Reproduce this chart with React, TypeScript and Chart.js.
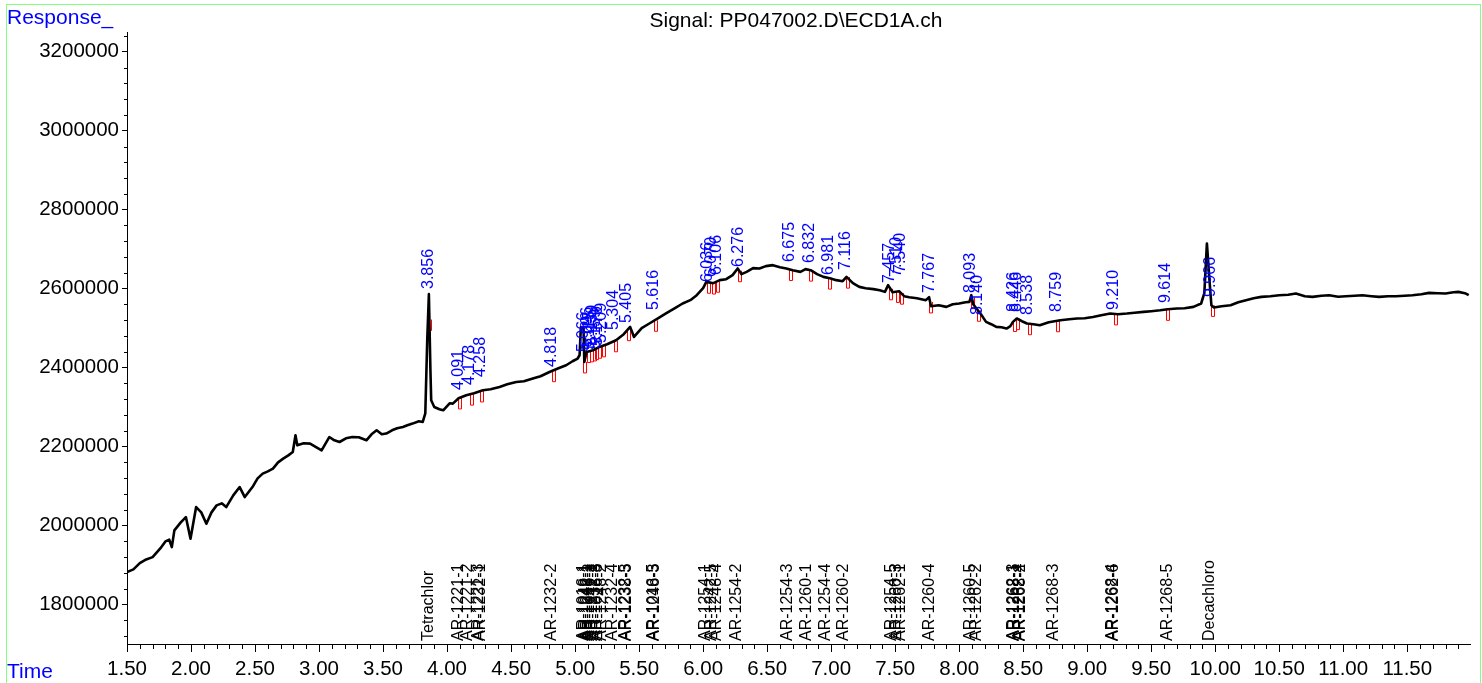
import React, { useEffect, useRef } from 'react';
import { Chart, registerables } from 'chart.js';

Chart.register(...registerables);

const chartTitle = 'Signal: PP047002.D\\ECD1A.ch';
const yAxisName = 'Response_';
const xAxisName = 'Time';

const signalTime = [
  1.50, 1.55, 1.60, 1.65, 1.70, 1.76, 1.80, 1.83, 1.85, 1.87,
  1.92, 1.96, 1.996, 2.04, 2.08, 2.12, 2.16, 2.20, 2.24, 2.275,
  2.33, 2.38, 2.42, 2.48, 2.52, 2.56, 2.60, 2.64, 2.68, 2.72,
  2.76, 2.795, 2.816, 2.83, 2.88, 2.93, 2.98, 3.02, 3.08, 3.12,
  3.16, 3.21, 3.26, 3.31, 3.37, 3.41, 3.45, 3.49, 3.525, 3.57,
  3.61, 3.655, 3.69, 3.73, 3.78, 3.81, 3.83, 3.845, 3.858, 3.87,
  3.876, 3.90, 3.94, 3.97, 4.02, 4.045, 4.09, 4.15, 4.21, 4.28,
  4.34, 4.41, 4.47, 4.54, 4.60, 4.67, 4.73, 4.80, 4.87, 4.93,
  4.98, 5.02, 5.035, 5.045, 5.066, 5.072, 5.09, 5.14, 5.19, 5.25,
  5.32, 5.38, 5.43, 5.46, 5.52, 5.58, 5.65, 5.71, 5.78, 5.84,
  5.90, 5.95, 6.00, 6.025, 6.08, 6.13, 6.18, 6.23, 6.27, 6.30,
  6.34, 6.39, 6.44, 6.49, 6.545, 6.60, 6.65, 6.70, 6.76, 6.80,
  6.84, 6.89, 6.94, 6.99, 7.04, 7.09, 7.12, 7.17, 7.22, 7.27,
  7.33, 7.38, 7.42, 7.445, 7.48, 7.53, 7.57, 7.61, 7.67, 7.74,
  7.765, 7.78, 7.84, 7.90, 7.95, 8.00, 8.05, 8.08, 8.095, 8.11,
  8.135, 8.17, 8.21, 8.25, 8.29, 8.33, 8.37, 8.40, 8.42, 8.45,
  8.49, 8.53, 8.58, 8.63, 8.70, 8.79, 8.86, 8.92, 8.98, 9.045,
  9.11, 9.18, 9.24, 9.31, 9.37, 9.44, 9.50, 9.57, 9.63, 9.70,
  9.76, 9.83, 9.89, 9.915, 9.935, 9.955, 9.97, 9.99, 10.05, 10.12,
  10.18, 10.24, 10.30, 10.36, 10.43, 10.50, 10.57, 10.63, 10.70, 10.76,
  10.83, 10.89, 10.96, 11.02, 11.09, 11.15, 11.22, 11.28, 11.35, 11.41,
  11.48, 11.54, 11.61, 11.67, 11.74, 11.80, 11.86, 11.90, 11.95, 11.98,
];

const signalResponse = [
  1882000, 1888900, 1904800, 1914200, 1920000, 1942100, 1959800, 1964100, 1945400, 1987700,
  2008000, 2021400, 1966700, 2046800, 2033400, 2004700, 2033400, 2051100, 2056200, 2046800,
  2076500, 2097500, 2072100, 2097500, 2119500, 2131500, 2137300, 2144100, 2160100, 2169500,
  2177800, 2186200, 2228500, 2203200, 2208300, 2207500, 2198100, 2190500, 2224200, 2215900,
  2211600, 2220900, 2224200, 2223500, 2215900, 2231100, 2241200, 2231100, 2232900, 2241200,
  2246300, 2249600, 2253900, 2258200, 2264000, 2262300, 2284300, 2469400, 2586000, 2393300,
  2317300, 2300300, 2294500, 2291900, 2309700, 2308900, 2322300, 2330000, 2335000, 2342600,
  2345200, 2351000, 2357800, 2363700, 2365400, 2372300, 2378100, 2389000, 2398400, 2406000,
  2416100, 2423000, 2431300, 2502300, 2499800, 2414400, 2439700, 2444000, 2452400, 2459200,
  2469400, 2484600, 2503100, 2477700, 2499800, 2511700, 2525100, 2537100, 2550500, 2562400,
  2570800, 2583400, 2601200, 2617200, 2613900, 2621500, 2624000, 2634200, 2651100, 2636700,
  2642500, 2651900, 2651100, 2657000, 2659500, 2654400, 2651100, 2646800, 2642500, 2649400,
  2646800, 2636700, 2629800, 2626500, 2621500, 2618900, 2629800, 2613900, 2604500, 2601200,
  2598700, 2596100, 2591800, 2608800, 2591000, 2593600, 2580900, 2578400, 2575800, 2570800,
  2578400, 2555600, 2558100, 2553800, 2560600, 2562400, 2565700, 2566500, 2583400, 2560600,
  2549700, 2535300, 2515800, 2509900, 2503100, 2502300, 2499000, 2504900, 2515800, 2524400,
  2517500, 2511700, 2509900, 2507400, 2515000, 2520100, 2522600, 2524400, 2525100, 2528400,
  2532700, 2537100, 2535300, 2537100, 2539100, 2541100, 2542900, 2545400, 2548000, 2549700,
  2550500, 2553800, 2562400, 2588500, 2714500, 2621500, 2558100, 2552300, 2555600, 2558100,
  2565700, 2570800, 2575800, 2579100, 2580900, 2583400, 2584700, 2587800, 2580900, 2579100,
  2582200, 2583400, 2579600, 2580900, 2582200, 2583400, 2580900, 2579100, 2580900, 2580900,
  2582200, 2583400, 2586000, 2589300, 2588500, 2587800, 2591000, 2591800, 2588500, 2583400,
];

// Integrated peaks: retention time (blue label) and response where its label sits
const peakTimes = [
  3.856, 4.091, 4.178, 4.258, 4.818, 5.066, 5.096, 5.115, 5.139, 5.159,
  5.179, 5.209, 5.304, 5.405, 5.616, 6.036, 6.070, 6.106, 6.276, 6.675,
  6.832, 6.981, 7.116, 7.457, 7.510, 7.540, 7.767, 8.093, 8.140, 8.426,
  8.446, 8.538, 8.759, 9.210, 9.614, 9.966,
];
const peakLabelResponse = [
  2591500, 2335700, 2348400, 2368600, 2394000, 2432000, 2444600, 2437000, 2449700, 2439600,
  2447100, 2454700, 2487700, 2505400, 2538300, 2609200, 2621900, 2627000, 2647200, 2659900,
  2657400, 2627000, 2639600, 2606700, 2621900, 2632000, 2581400, 2581400, 2525700, 2533300,
  2533300, 2525700, 2533300, 2538300, 2556100, 2571300,
];

// Compound identifications along the bottom
const compoundNames = [
  'Tetrachlor', 'AR-1221-1', 'AR-1221-2', 'AR-1221-3', 'AR-1232-1', 'AR-1232-2',
  'AR-1016-1', 'AR-1242-1', 'AR-1248-1', 'AR-1016-2', 'AR-1242-2', 'AR-1232-3',
  'AR-1016-3', 'AR-1248-2', 'AR-1232-4', 'AR-1232-5', 'AR-1238-3', 'AR-1016-5',
  'AR-1248-3', 'AR-1254-1', 'AR-1242-5', 'AR-1248-4', 'AR-1254-2', 'AR-1254-3',
  'AR-1260-1', 'AR-1254-4', 'AR-1260-2', 'AR-1254-5', 'AR-1260-3', 'AR-1262-1',
  'AR-1260-4', 'AR-1260-5', 'AR-1262-2', 'AR-1262-3', 'AR-1268-1', 'AR-1262-4',
  'AR-1268-2', 'AR-1268-3', 'AR-1268-4', 'AR-1262-6', 'AR-1268-5', 'Decachloro',
];
const compoundTimes = [
  3.856, 4.091, 4.160, 4.250, 4.262, 4.818,
  5.066, 5.080, 5.096, 5.115, 5.139, 5.159,
  5.179, 5.209, 5.290, 5.395, 5.400, 5.616,
  5.620, 6.020, 6.070, 6.106, 6.260, 6.660,
  6.812, 6.960, 7.100, 7.470, 7.510, 7.540,
  7.770, 8.093, 8.135, 8.426, 8.436, 8.470,
  8.480, 8.735, 9.200, 9.205, 9.630, 9.955,
];

const xTickValues = [1.5, 2.0, 2.5, 3.0, 3.5, 4.0, 4.5, 5.0, 5.5, 6.0, 6.5, 7.0, 7.5, 8.0, 8.5, 9.0, 9.5, 10.0, 10.5, 11.0, 11.5];
const yTickValues = [1800000, 2000000, 2200000, 2400000, 2600000, 2800000, 3000000, 3200000];
const xRange = [1.5, 11.99];
const yRange = [1700000, 3250000];

const FONT = '"Liberation Sans", Arial, Helvetica, sans-serif';

function responseAt(t: number): number {
  for (let i = 1; i < signalTime.length; i++) {
    if (signalTime[i] >= t) {
      const f = (t - signalTime[i - 1]) / (signalTime[i] - signalTime[i - 1]);
      return signalResponse[i - 1] + f * (signalResponse[i] - signalResponse[i - 1]);
    }
  }
  return signalResponse[signalResponse.length - 1];
}

const overlayPlugin = {
  id: 'overlay',
  beforeDatasetsDraw(chart: any) {
    const ctx = chart.ctx;
    const xs = chart.scales.x;
    const ys = chart.scales.y;
    ctx.save();
    ctx.strokeStyle = '#ff0000';
    ctx.lineWidth = 1;
    ctx.beginPath();
    peakTimes.forEach((t) => {
      const px = Math.round(xs.getPixelForValue(t + 0.006)) + 0.5;
      const py = ys.getPixelForValue(responseAt(t + 0.006));
      ctx.moveTo(px - 1, py);
      ctx.lineTo(px - 1, py + 11);
      ctx.lineTo(px + 2, py + 11);
      ctx.lineTo(px + 2, py);
    });
    ctx.stroke();
    ctx.restore();
  },
  afterDatasetsDraw(chart: any) {
    const ctx = chart.ctx;
    const xs = chart.scales.x;
    const ys = chart.scales.y;
    const area = chart.chartArea;
    ctx.save();

    // minor ticks
    ctx.strokeStyle = '#000';
    ctx.lineWidth = 1;
    ctx.beginPath();
    for (let i = 16; i <= 119; i++) {
      if (i % 5 === 0) continue;
      const v = i / 10;
      if (v > xs.max) continue;
      const px = Math.round(xs.getPixelForValue(v)) + 0.5;
      ctx.moveTo(px, area.bottom);
      ctx.lineTo(px, area.bottom + 5);
    }
    for (let k = 43; k <= 81; k++) {
      const v = k * 40000;
      if (v % 200000 === 0) continue;
      if (v > ys.max || v < ys.min) continue;
      const py = Math.round(ys.getPixelForValue(v)) + 0.5;
      ctx.moveTo(area.left - 3, py);
      ctx.lineTo(area.left, py);
    }
    ctx.stroke();

    // peak retention-time labels (blue, vertical)
    ctx.fillStyle = '#0000ff';
    ctx.font = `16px ${FONT}`;
    ctx.textAlign = 'left';
    ctx.textBaseline = 'middle';
    peakTimes.forEach((t, i) => {
      const px = xs.getPixelForValue(t);
      const py = ys.getPixelForValue(peakLabelResponse[i]) - 3;
      ctx.save();
      ctx.translate(px, py);
      ctx.rotate(-Math.PI / 2);
      ctx.fillText(t.toFixed(3), 0, 0);
      ctx.restore();
    });

    // compound names (black, vertical, from the axis up)
    ctx.fillStyle = '#000000';
    compoundNames.forEach((name, i) => {
      const px = xs.getPixelForValue(compoundTimes[i]);
      ctx.save();
      ctx.translate(px, area.bottom - 3);
      ctx.rotate(-Math.PI / 2);
      ctx.fillText(name, 0, 0);
      ctx.restore();
    });

    // title and axis names
    ctx.font = `21px ${FONT}`;
    ctx.textBaseline = 'alphabetic';
    ctx.textAlign = 'center';
    ctx.fillStyle = '#000';
    ctx.fillText(chartTitle, 796, 27);
    ctx.textAlign = 'left';
    ctx.fillStyle = '#0000ff';
    ctx.fillText(yAxisName, 7, 24);
    ctx.fillText(xAxisName, 7, 678);

    // frame
    ctx.strokeStyle = '#80ff80';
    ctx.lineWidth = 1;
    ctx.strokeRect(6.5, 4.5, 1474, 700);
    ctx.restore();
  },
};

export default function App() {
  const canvasRef = useRef<HTMLCanvasElement | null>(null);

  useEffect(() => {
    document.body.style.margin = '0';
    const canvas = canvasRef.current;
    if (!canvas) return;
    const points = signalTime.map((t, i) => ({ x: t, y: signalResponse[i] }));
    const chart = new Chart(canvas, {
      type: 'line',
      data: {
        datasets: [
          {
            data: points,
            borderColor: '#000000',
            borderWidth: 2.6,
            borderJoinStyle: 'round',
            pointRadius: 0,
            tension: 0,
            fill: false,
          },
        ],
      },
      options: {
        animation: false,
        responsive: true,
        maintainAspectRatio: false,
        layout: { padding: { left: 0, right: 12, top: 32, bottom: 0 } },
        plugins: {
          legend: { display: false },
          tooltip: { enabled: false },
          title: { display: false },
        },
        scales: {
          x: {
            type: 'linear',
            min: xRange[0],
            max: xRange[1],
            afterBuildTicks: (s: any) => {
              s.ticks = xTickValues.map((v) => ({ value: v }));
            },
            afterFit: (s: any) => {
              s.height = 39;
            },
            ticks: {
              autoSkip: false,
              maxRotation: 0,
              padding: 5,
              color: '#000',
              font: { size: 20.5, family: FONT },
              callback: (v: any) => Number(v).toFixed(2),
            },
            grid: { drawOnChartArea: false, drawTicks: true, tickLength: 8, color: '#000' },
            border: { display: true, color: '#000', width: 1 },
          },
          y: {
            type: 'linear',
            min: yRange[0],
            max: yRange[1],
            afterBuildTicks: (s: any) => {
              s.ticks = yTickValues.map((v) => ({ value: v }));
            },
            afterFit: (s: any) => {
              s.width = 127;
            },
            ticks: {
              autoSkip: false,
              padding: 3,
              color: '#000',
              font: { size: 20.5, family: FONT },
              callback: (v: any) => String(v),
            },
            grid: { drawOnChartArea: false, drawTicks: true, tickLength: 5, color: '#000' },
            border: { display: true, color: '#000', width: 1 },
          },
        },
      },
      plugins: [overlayPlugin],
    });
    return () => chart.destroy();
  }, []);

  return (
    <div style={{ position: 'fixed', left: 0, top: 0, width: 1482, height: 683, background: '#fff' }}>
      <canvas ref={canvasRef} />
    </div>
  );
}
